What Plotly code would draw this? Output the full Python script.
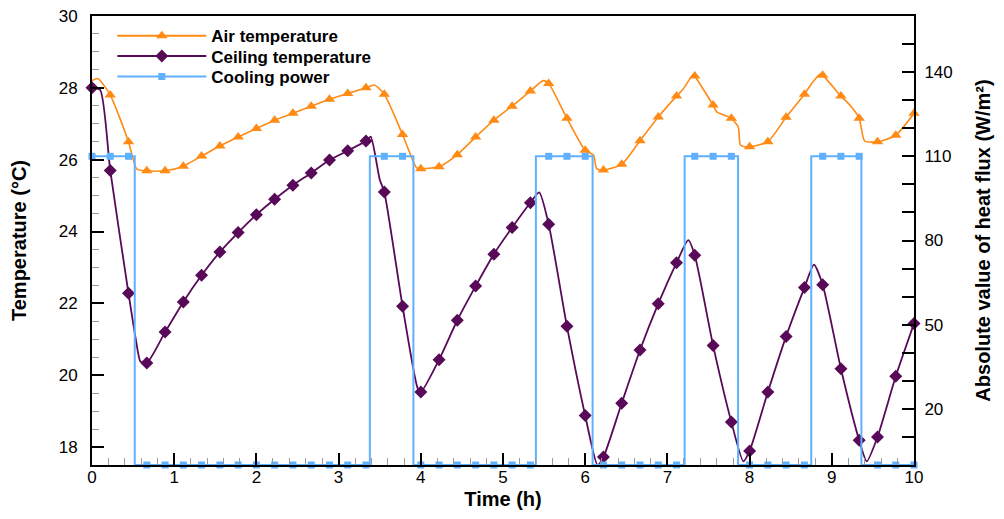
import plotly.graph_objects as go

# ---------------- data ----------------
t_grid = [0.0, 0.222, 0.444, 0.667, 0.889, 1.111, 1.333, 1.556, 1.778, 2.0,
          2.222, 2.444, 2.667, 2.889, 3.111, 3.333, 3.556, 3.778, 4.0, 4.222,
          4.444, 4.667, 4.889, 5.111, 5.333, 5.556, 5.778, 6.0, 6.222, 6.444,
          6.667, 6.889, 7.111, 7.333, 7.556, 7.778, 8.0, 8.222, 8.444, 8.667,
          8.889, 9.111, 9.333, 9.556, 9.778, 10.0]

air_grid = [28.2, 27.8, 26.5, 25.69, 25.69, 25.82, 26.1, 26.38, 26.63, 26.87,
            27.1, 27.29, 27.49, 27.68, 27.84, 28.0, 27.82, 26.7, 25.75, 25.8,
            26.14, 26.63, 27.1, 27.49, 27.91, 28.12, 27.15, 26.26, 25.71, 25.87,
            26.53, 27.19, 27.77, 28.33, 27.52, 27.15, 26.36, 26.5, 27.18, 27.82,
            28.35, 27.77, 27.15, 26.5, 26.68, 27.29]
air_extra_t = [0.07, 0.545, 3.434, 3.95, 5.49, 6.1, 6.14, 7.19, 7.315, 7.6,
               7.862, 7.89, 8.755, 8.856, 9.22, 9.40]
air_extra_v = [28.26, 25.74, 28.08, 25.77, 28.2, 26.13, 25.75, 27.96, 28.38, 27.33,
               26.91, 26.4, 28.12, 28.38, 27.52, 26.52]

ceil_grid = [28.0, 25.7, 22.28, 20.34, 21.2, 22.04, 22.78, 23.43, 23.97, 24.47,
             24.9, 25.29, 25.63, 25.99, 26.25, 26.52, 25.1, 21.92, 19.53, 20.43,
             21.53, 22.48, 23.37, 24.11, 24.8, 24.2, 21.36, 18.88, 17.72, 19.22,
             20.7, 21.99, 23.13, 23.34, 20.83, 18.7, 17.89, 19.53, 21.08, 22.44,
             22.52, 20.18, 18.19, 18.28, 19.97, 21.44]
ceil_extra_t = [0.1, 0.535, 0.59, 3.39, 3.5, 3.96, 5.44, 6.15, 7.254, 7.924,
                8.783, 9.425]
ceil_extra_v = [27.94, 20.97, 20.38, 26.64, 25.45, 19.65, 25.09, 17.5, 23.76, 17.6,
                23.08, 17.6]

cool_grid = [110, 110, 110, 0, 0, 0, 0, 0, 0, 0,
             0, 0, 0, 0, 0, 0, 110, 110, 0, 0,
             0, 0, 0, 0, 0, 110, 110, 110, 0, 0,
             0, 0, 0, 110, 110, 110, 0, 0, 0, 0,
             110, 110, 110, 0, 0, 0]
cool_step_t = [0, 0.52, 3.38, 3.91, 5.40, 6.09, 7.21, 7.86, 8.75, 9.36, 10]
cool_step_v = [110, 0, 110, 0, 110, 0, 110, 0, 110, 0, 0]

names = ["Air temperature", "Ceiling temperature", "Cooling power"]
x_ticks = [0, 1, 2, 3, 4, 5, 6, 7, 8, 9, 10]
y_ticks = [18, 20, 22, 24, 26, 28, 30]
y2_ticks = [20, 50, 80, 110, 140]

C_AIR = "#FF8A14"
C_CEIL = "#580A58"
C_COOL = "#5FB0FF"


def merged(tg, vg, te, ve):
    pts = sorted(list(zip(tg, vg)) + list(zip(te, ve)))
    return [p[0] for p in pts], [p[1] for p in pts]


air_t, air_v = merged(t_grid, air_grid, air_extra_t, air_extra_v)
ceil_t, ceil_v = merged(t_grid, ceil_grid, ceil_extra_t, ceil_extra_v)

fig = go.Figure()

# lines
fig.add_trace(go.Scatter(x=air_t, y=air_v, mode="lines", showlegend=False,
                         line=dict(color=C_AIR, width=1.6, shape="spline", smoothing=0.6),
                         hoverinfo="skip"))
fig.add_trace(go.Scatter(x=ceil_t, y=ceil_v, mode="lines", showlegend=False,
                         line=dict(color=C_CEIL, width=1.8, shape="spline", smoothing=0.6),
                         hoverinfo="skip"))
# markers
fig.add_trace(go.Scatter(x=t_grid[1:], y=air_grid[1:], mode="markers", showlegend=False,
                         marker=dict(symbol="triangle-up", size=10, color=C_AIR),
                         cliponaxis=False))
fig.add_trace(go.Scatter(x=t_grid, y=ceil_grid, mode="markers", showlegend=False,
                         marker=dict(symbol="diamond", size=10, color=C_CEIL),
                         cliponaxis=False))
# cooling power (right axis)
fig.add_trace(go.Scatter(x=cool_step_t, y=cool_step_v, mode="lines", showlegend=False,
                         line=dict(color=C_COOL, width=2, shape="hv"), yaxis="y2",
                         cliponaxis=False))
fig.add_trace(go.Scatter(x=t_grid, y=cool_grid, mode="markers", showlegend=False,
                         marker=dict(symbol="square", size=7, color=C_COOL),
                         yaxis="y2", cliponaxis=False))

FONT = "Liberation Sans, Arial, sans-serif"
tickfont = dict(family=FONT, size=17, color="black")
titlefont = dict(family=FONT, size=20, color="black", weight="bold")
legfont = dict(family=FONT, size=17, color="black", weight="bold")

# legend entries, each in its own legend box for exact row spacing
leg_ids = ["legend", "legend2", "legend3"]
leg_y = [0.955, 0.910, 0.864]
for nm, col, sym, sz, lid in zip(names, [C_AIR, C_CEIL, C_COOL],
                                 ["triangle-up", "diamond", "square"], [10, 10, 7], leg_ids):
    fig.add_trace(go.Scatter(x=[None], y=[None], mode="lines+markers", name=nm,
                             legend=lid, line=dict(color=col, width=2),
                             marker=dict(symbol=sym, size=sz, color=col)))

leg_common = dict(x=0.0247, xanchor="left", yanchor="middle", bgcolor="rgba(0,0,0,0)",
                  itemwidth=89, font=legfont, borderwidth=0)

fig.update_layout(
    width=988, height=503,
    margin=dict(l=84, r=82, t=8, b=46),
    paper_bgcolor="white", plot_bgcolor="white",
    font=dict(family=FONT, color="black"),
    showlegend=True,
    legend=dict(y=leg_y[0], **leg_common),
    legend2=dict(y=leg_y[1], **leg_common),
    legend3=dict(y=leg_y[2], **leg_common),
    xaxis=dict(range=[0, 10], tickvals=x_ticks, ticks="inside", ticklen=12,
               tickwidth=2, tickcolor="black", showline=True, linewidth=2,
               linecolor="black", mirror=True, showgrid=False, zeroline=False,
               tickfont=tickfont, ticklabelstandoff=-4, automargin=False,
               ticklabeloverflow="allow",
               minor=dict(dtick=0.2, ticks="inside", ticklen=7, tickwidth=1,
                          tickcolor="#9a9a9a", showgrid=False),
               title=dict(text="Time (h)", font=titlefont, standoff=6)),
    yaxis=dict(range=[17.5, 30], tickvals=y_ticks, ticks="inside", ticklen=12,
               tickwidth=2, tickcolor="black", showline=True, linewidth=2,
               linecolor="black", mirror=False, showgrid=False, zeroline=False,
               tickfont=tickfont, ticklabelstandoff=9, automargin=False,
               ticklabeloverflow="allow",
               minor=dict(dtick=0.5, ticks="inside", ticklen=7, tickwidth=1,
                          tickcolor="#9a9a9a", showgrid=False),
               title=dict(text="Temperature (°C)", font=titlefont, standoff=30)),
    yaxis2=dict(range=[0, 160], tickvals=y2_ticks, overlaying="y", side="right",
                ticks="inside", ticklen=12, tickwidth=2, tickcolor="black",
                showline=True, linewidth=2, linecolor="black", showgrid=False,
                zeroline=False, tickfont=tickfont, ticklabelstandoff=5, automargin=False,
                ticklabeloverflow="allow",
                minor=dict(dtick=10, ticks="inside", ticklen=12, tickwidth=2,
                           tickcolor="black", showgrid=False),
                title=dict(text="Absolute value of heat flux (W/m²)", font=titlefont,
                           standoff=24)),
)

fig.write_html("out.html")
